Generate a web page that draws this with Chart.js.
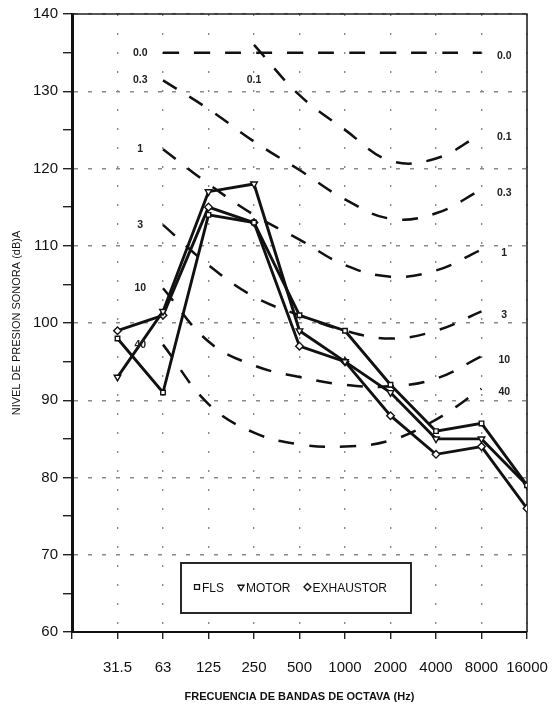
<!DOCTYPE html>
<html>
<head>
<meta charset="utf-8">
<script src="https://cdn.jsdelivr.net/npm/chart.js@4.4.1/dist/chart.umd.min.js"></script>
<style>
    html, body { margin: 0; padding: 0; background: #fff; }
    #wrap { width: 558px; height: 710px; }
</style>
</head>
<body>
<div id="wrap"><canvas id="chart"></canvas></div>
<script>
// Octave bands (plotted at x = 1..10, x = 0 is the y axis)
const freqLabels = ['31.5', '63', '125', '250', '500', '1000', '2000', '4000', '8000', '16000'];

// Measured sound pressure levels, dB(A)
const flsLevels = [98, 91, 114, 113, 101, 99, 92, 86, 87, 79];
const motorLevels = [93, 101.5, 117, 118, 99, 95, 91, 85, 85, 79];
const exhaustorLevels = [99, 101, 115, 113, 97, 95, 88, 83, 84, 76];

// Dashed reference curves (first band index, then levels)
const curveNames = ['0.0', '0.1', '0.3', '1', '3', '10', '40'];
const curveStart = [2, 4, 2, 2, 2, 2, 2];
const curve00 = [135, 135, 135, 135, 135, 135, 135, 135];
const curve01 = [136, 129.5, 125, 121, 121.3, 124.5];
const curve03 = [131.4, 127.7, 123.5, 119.8, 116, 113.5, 114.2, 117.3];
const curve1 = [122.5, 118, 114, 110.8, 107.5, 106, 106.8, 109.5];
const curve3 = [112.7, 107.5, 103.4, 101, 99, 98, 99, 101.5];
const curve10 = [104.5, 97.6, 94.5, 93, 92, 91.8, 92.8, 95.7];
const curve40 = [97.2, 89.5, 85.8, 84.3, 84, 84.8, 87.5, 91.5];
const curveLevels = [curve00, curve01, curve03, curve1, curve3, curve10, curve40];

const fontFamily = '"Liberation Sans", Arial, sans-serif';
const gridColor = '#8a8a8a';

// Series -> datasets
const series = [
    { label: 'FLS', data: flsLevels, pointStyle: 'rect', rotation: 0, radius: 3.2 },
    { label: 'MOTOR', data: motorLevels, pointStyle: 'triangle', rotation: 180, radius: 3.8 },
    { label: 'EXHAUSTOR', data: exhaustorLevels, pointStyle: 'rectRot', rotation: 0, radius: 3.8 }
];

const datasets = series.map(s => ({
    label: s.label,
    data: s.data.map((v, i) => ({ x: i + 1, y: v })),
    borderColor: '#111',
    borderWidth: 2.9,
    pointStyle: s.pointStyle,
    pointRotation: s.rotation,
    pointRadius: s.radius,
    pointBorderWidth: 1.4,
    pointBackgroundColor: '#fff',
    pointBorderColor: '#111',
    tension: 0,
    order: 1
}));

curveNames.forEach((name, c) => {
    datasets.push({
        label: name,
        isCurve: true,
        data: curveLevels[c].map((v, k) => ({ x: curveStart[c] + k, y: v })),
        borderColor: '#111',
        borderWidth: 2.5,
        borderDash: [16, 15],
        pointRadius: 0,
        tension: 0.4,
        order: 2
    });
});

// Curve labels on both ends
const curveLabelPlugin = {
    id: 'curveLabels',
    afterDatasetsDraw(chart) {
        const { ctx, scales: { x, y } } = chart;
        ctx.save();
        ctx.font = 'bold 10.5px ' + fontFamily;
        ctx.fillStyle = '#222';
        ctx.textAlign = 'center';
        ctx.textBaseline = 'middle';
        chart.data.datasets.filter(d => d.isCurve).forEach(d => {
            const first = d.data[0];
            const last = d.data[d.data.length - 1];
            if (first.x > 2) {
                // starts further right: label sits under its start
                ctx.fillText(d.label, x.getPixelForValue(first.x), y.getPixelForValue(first.y - 4.6));
            } else {
                ctx.fillText(d.label, x.getPixelForValue(first.x - 0.5), y.getPixelForValue(first.y));
            }
            ctx.fillText(d.label, x.getPixelForValue(last.x + 0.5), y.getPixelForValue(last.y - 0.5));
        });
        ctx.restore();
    }
};

// Top and right frame lines
const framePlugin = {
    id: 'frame',
    beforeDatasetsDraw(chart) {
        const { ctx, chartArea: a } = chart;
        ctx.save();
        ctx.strokeStyle = '#222';
        ctx.lineWidth = 1.6;
        ctx.beginPath();
        ctx.moveTo(a.left, a.top);
        ctx.lineTo(a.right, a.top);
        ctx.lineTo(a.right, a.bottom);
        ctx.stroke();
        ctx.restore();
    }
};

// Boxed legend inside the plot
const legendBoxPlugin = {
    id: 'legendBox',
    afterDraw(chart) {
        const { ctx, chartArea: a } = chart;
        const left = a.left + 109, top = a.bottom - 69, w = 230, h = 50;
        ctx.save();
        ctx.fillStyle = '#fff';
        ctx.fillRect(left, top, w, h);
        ctx.strokeStyle = '#111';
        ctx.lineWidth = 1.8;
        ctx.strokeRect(left, top, w, h);
        ctx.font = '12px ' + fontFamily;
        ctx.textBaseline = 'middle';
        ctx.textAlign = 'left';
        const yMid = top + h / 2;
        let xPos = left + 16;
        chart.data.datasets.filter(d => !d.isCurve).forEach(d => {
            ctx.fillStyle = '#fff';
            ctx.strokeStyle = '#111';
            ctx.lineWidth = 1.3;
            Chart.helpers.drawPoint(ctx, {
                pointStyle: d.pointStyle,
                rotation: d.pointRotation,
                radius: 3.5,
                borderWidth: 1.3
            }, xPos, yMid - 1);
            ctx.fillStyle = '#111';
            ctx.fillText(d.label, xPos + 5, yMid + 1);
            xPos += 5 + ctx.measureText(d.label).width + 17;
        });
        ctx.restore();
    }
};

const ctx = document.getElementById('chart').getContext('2d');

new Chart(ctx, {
    type: 'line',
    data: { datasets },
    options: {
        responsive: true,
        maintainAspectRatio: false,
        animation: false,
        layout: { padding: { left: 0, right: 31, top: 11, bottom: 0 } },
        plugins: {
            legend: { display: false },
            tooltip: { enabled: false }
        },
        scales: {
            x: {
                type: 'linear',
                min: 0,
                max: 10,
                afterFit: s => {
                    s.height = 78;
                    s.paddingLeft = 0;
                    s.paddingRight = 20; // keep the plot edge under 16000
                },
                afterBuildTicks: s => { s.ticks = freqLabels.map((_, i) => ({ value: i })).concat([{ value: 10 }]); },
                ticks: {
                    stepSize: 1,
                    autoSkip: false,
                    maxRotation: 0,
                    padding: 20,
                    color: '#111',
                    font: { family: fontFamily, size: 15 },
                    callback: v => (v >= 1 ? freqLabels[v - 1] : '')
                },
                grid: {
                    color: gridColor,
                    lineWidth: 1.4,
                    tickColor: '#222',
                    tickLength: 7
                },
                border: { display: true, color: '#111', width: 2, dash: [2, 17] },
                title: {
                    display: true,
                    text: 'FRECUENCIA DE BANDAS DE OCTAVA (Hz)',
                    color: '#111',
                    font: { family: fontFamily, size: 11, weight: 'bold' },
                    padding: { top: 0, bottom: 6 }
                }
            },
            y: {
                min: 60,
                max: 140,
                afterFit: s => { s.width = 72; },
                ticks: {
                    stepSize: 5,
                    padding: 5,
                    color: '#111',
                    font: { family: fontFamily, size: 15 },
                    callback: v => (v % 10 === 0 ? v : '')
                },
                grid: {
                    color: c => (c.tick && c.tick.value % 10 === 0 ? gridColor : 'rgba(0,0,0,0)'),
                    lineWidth: 1.4,
                    tickColor: '#222',
                    tickLength: 9
                },
                border: { display: true, color: '#111', width: 3, dash: [4, 10] },
                title: {
                    display: true,
                    text: 'NIVEL DE PRESION SONORA (dB)A',
                    color: '#111',
                    font: { family: fontFamily, size: 11 },
                    padding: { top: 10, bottom: 0 }
                }
            }
        }
    },
    plugins: [framePlugin, curveLabelPlugin, legendBoxPlugin]
});
</script>
</body>
</html>
